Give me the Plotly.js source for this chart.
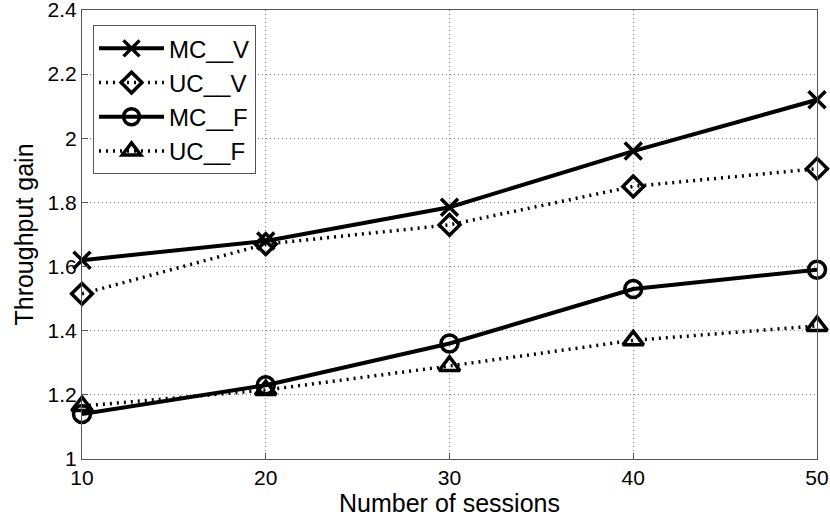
<!DOCTYPE html>
<html><head><meta charset="utf-8">
<script src="https://cdn.plot.ly/plotly-3.0.1.min.js"></script>
<style>body{margin:0;background:#fff}#c{width:830px;height:521px}</style>
</head><body><div id="c"></div>
<script>
const sessions = [10, 20, 30, 40, 50];
const mcV = [1.62, 1.68, 1.785, 1.96, 2.12];
const ucV = [1.515, 1.67, 1.73, 1.85, 1.905];
const mcF = [1.14, 1.23, 1.36, 1.53, 1.59];
const ucF = [1.165, 1.215, 1.29, 1.37, 1.415];
const names = ['MC__V', 'UC__V', 'MC__F', 'UC__F'];
const yTicks = [1, 1.2, 1.4, 1.6, 1.8, 2, 2.2, 2.4];
const yTickText = ['1', '1.2', '1.4', '1.6', '1.8', '2', '2.2', '2.4'];

const FONT = 'Liberation Sans, Arial, sans-serif';
function tr(y, name, dash, sym, size) {
  return {x: sessions, y: y, name: name, type: 'scatter', mode: 'lines+markers', cliponaxis: false,
    line: {color: '#000', width: dash === 'solid' ? 4 : 3.5, dash: dash === 'solid' ? 'solid' : '2px,5px'},
    marker: {symbol: sym, size: size, color: '#000', line: {color: '#000', width: 3.5}}};
}
const data = [
  tr(mcV, names[0], 'solid', 'x-thin-open', 17),
  tr(ucV, names[1], 'dot', 'diamond-open', 16),
  tr(mcF, names[2], 'solid', 'circle-open', 17),
  tr(ucF, names[3], 'dot', 'triangle-up-open', 18)
];
const ax = {showline: true, mirror: true, linecolor: '#555', linewidth: 1,
  showgrid: true, gridcolor: '#888', griddash: '1px,3px', gridwidth: 1,
  ticks: 'inside', ticklen: 6, tickcolor: '#555', zeroline: false, ticklabeloverflow: 'allow',
  tickfont: {family: FONT, size: 21, color: '#000'}};
const layout = {
  width: 830, height: 521, paper_bgcolor: '#fff', plot_bgcolor: '#fff',
  margin: {l: 82, r: 13, t: 10, b: 62},
  showlegend: true,
  legend: {x: 0.015, y: 0.966, xanchor: 'left', yanchor: 'top', bordercolor: '#555', borderwidth: 1,
    bgcolor: '#fff', font: {family: FONT, size: 24, color: '#000'}, tracegroupgap: 0, itemwidth: 65},
  xaxis: Object.assign({}, ax, {range: [10, 50], tickvals: sessions, ticktext: sessions.map(String),
    title: {text: 'Number of sessions', font: {family: FONT, size: 25, color: '#000'}, standoff: 2}}),
  yaxis: Object.assign({}, ax, {range: [1, 2.4], tickvals: yTicks, ticktext: yTickText,
    title: {text: 'Throughput gain', font: {family: FONT, size: 25, color: '#000'}, standoff: 6}})
};
Plotly.newPlot('c', data, layout, {displayModeBar: false});
</script></body></html>
